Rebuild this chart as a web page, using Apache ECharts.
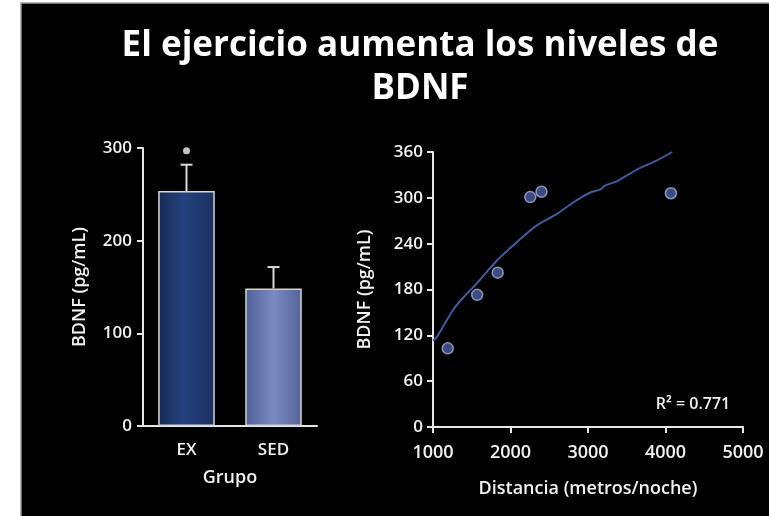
<!DOCTYPE html>
<html>
<head>
<meta charset="utf-8">
<style>
  html, body { margin: 0; padding: 0; background: #ffffff; }
  #chart { width: 769px; height: 516px; }
</style>
<script src="https://cdn.jsdelivr.net/npm/echarts@6/dist/echarts.min.js"></script>
</head>
<body>
<div id="chart"></div>
<script>
// Group comparison (bar chart)
const groups = ['EX', 'SED'];
const groupMeans = [253.5, 148.5];
const groupErrors = [28.5, 23];
const sigMarks = [['EX', 297]];

// Running distance vs. BDNF (scatter + fitted trend)
const distance = [1190, 1570, 1835, 2255, 2400, 4070];
const bdnf = [103, 173, 202, 301, 308, 306];
const trendX = [1000, 1050, 1285, 1565, 1825, 2080, 2340, 2600, 2855, 3030, 3160, 3220, 3375, 3630, 3890, 4085];
const trendY = [113, 118, 157, 188, 218, 242, 264, 279, 297, 307, 311, 316, 322, 337, 349, 360];
const r2Text = 'R\u00B2 = 0.771';

const titleLines = ['El ejercicio aumenta los niveles de', 'BDNF'];

const fontFam = '"Open Sans", "DejaVu Sans", sans-serif';
const axisCol = '#e6e6e6';
const textCol = '#f2f2f2';
const labelStyle = (size, margin) => ({
  color: textCol, fontFamily: fontFam, fontSize: size, fontWeight: 600, margin: margin
});
const nameStyle = (size) => ({ color: textCol, fontFamily: fontFam, fontSize: size, fontWeight: 600 });

function axisBase() {
  return {
    axisLine: { show: true, lineStyle: { color: axisCol, width: 2 } },
    axisTick: { show: true, length: 6, lineStyle: { color: axisCol, width: 2 } },
    splitLine: { show: false }
  };
}

const chart = echarts.init(document.getElementById('chart'), null, { renderer: 'canvas' });

const exGrad = new echarts.graphic.LinearGradient(0, 0, 1, 0, [
  { offset: 0, color: '#182a55' },
  { offset: 0.45, color: '#24427e' },
  { offset: 1, color: '#1b3060' }
]);
const sedGrad = new echarts.graphic.LinearGradient(0, 0, 1, 0, [
  { offset: 0, color: '#4f5e95' },
  { offset: 0.5, color: '#7b8bc2' },
  { offset: 1, color: '#55629a' }
]);

chart.setOption({
  backgroundColor: '#ffffff',
  animation: false,
  graphic: [
    {
      type: 'rect', z: -10, silent: true,
      shape: { x: 21, y: 3, width: 760, height: 520 },
      style: { fill: '#000000', stroke: '#9a9a9a', lineWidth: 1.5 }
    },
    {
      type: 'text', z: 10, x: 420, y: 25,
      style: {
        text: titleLines.join('\n'),
        fill: '#ffffff', font: 'bold 35px ' + fontFam,
        textAlign: 'center', lineHeight: 43
      }
    },
    {
      type: 'text', z: 10, x: 693, y: 404,
      style: {
        text: r2Text, fill: textCol, font: '600 16px ' + fontFam,
        textAlign: 'center', textVerticalAlign: 'middle'
      }
    }
  ],
  grid: [
    { left: 143, top: 148, width: 174, height: 278 },
    { left: 433, top: 152, width: 310, height: 275 }
  ],
  xAxis: [
    Object.assign(axisBase(), {
      type: 'category', gridIndex: 0, data: groups,
      axisTick: { show: false },
      name: 'Grupo', nameLocation: 'middle', nameGap: 43,
      nameTextStyle: nameStyle(18),
      axisLabel: labelStyle(17, 16)
    }),
    Object.assign(axisBase(), {
      type: 'value', gridIndex: 1, min: 1000, max: 5000, interval: 1000,
      name: 'Distancia (metros/noche)', nameLocation: 'middle', nameGap: 53,
      nameTextStyle: nameStyle(18),
      axisLabel: Object.assign(labelStyle(18, 17), { formatter: v => String(v) })
    })
  ],
  yAxis: [
    Object.assign(axisBase(), {
      type: 'value', gridIndex: 0, min: 0, max: 300, interval: 100,
      name: 'BDNF (pg/mL)', nameLocation: 'middle', nameGap: 54,
      nameTextStyle: nameStyle(18),
      axisLabel: labelStyle(17, 11)
    }),
    Object.assign(axisBase(), {
      type: 'value', gridIndex: 1, min: 0, max: 360, interval: 60,
      name: 'BDNF (pg/mL)', nameLocation: 'middle', nameGap: 59,
      nameTextStyle: nameStyle(18),
      axisLabel: labelStyle(17, 10)
    })
  ],
  series: [
    {
      type: 'bar', xAxisIndex: 0, yAxisIndex: 0, barWidth: '65%',
      data: groupMeans.map((v, i) => ({
        value: v,
        itemStyle: { color: i === 0 ? exGrad : sedGrad, borderColor: '#d4d4d4', borderWidth: 1.5 }
      })),
      z: 2
    },
    {
      type: 'custom', xAxisIndex: 0, yAxisIndex: 0, z: 1,
      data: groupMeans.map((v, i) => [i, v, v + groupErrors[i]]),
      renderItem: function (params, api) {
        const base = api.coord([api.value(0), api.value(1)]);
        const top = api.coord([api.value(0), api.value(2)]);
        const half = 6;
        const st = { stroke: '#dadada', lineWidth: 2 };
        return {
          type: 'group',
          children: [
            { type: 'line', shape: { x1: base[0], y1: base[1], x2: top[0], y2: top[1] }, style: st },
            { type: 'line', shape: { x1: top[0] - half, y1: top[1], x2: top[0] + half, y2: top[1] }, style: st }
          ]
        };
      }
    },
    {
      type: 'scatter', xAxisIndex: 0, yAxisIndex: 0,
      data: sigMarks, symbol: 'circle', symbolSize: 7,
      itemStyle: { color: '#f4f4f4' }
    },
    {
      type: 'line', xAxisIndex: 1, yAxisIndex: 1,
      data: trendX.map((x, i) => [x, trendY[i]]),
      smooth: 0.3, showSymbol: false,
      lineStyle: { color: '#3e5c9c', width: 2 }
    },
    {
      type: 'scatter', xAxisIndex: 1, yAxisIndex: 1,
      data: distance.map((x, i) => [x, bdnf[i]]),
      symbol: 'circle', symbolSize: 11,
      itemStyle: { color: '#4a5fa6', borderColor: '#a9aed2', borderWidth: 1.5 },
      z: 3
    }
  ]
});
</script>
</body>
</html>
